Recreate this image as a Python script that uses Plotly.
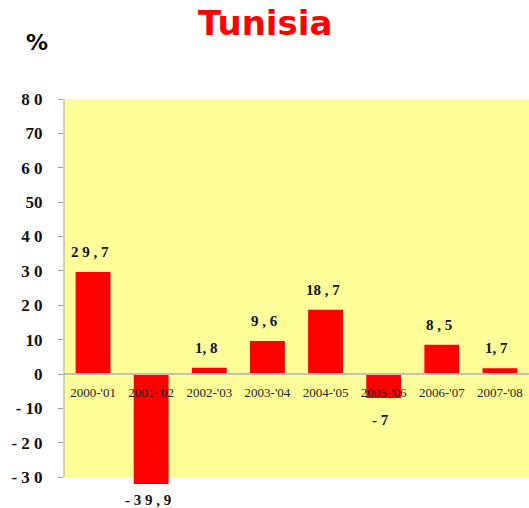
import plotly.graph_objects as go

categories = ["2000-'01", "2001-'02", "2002-'03", "2003-'04", "2004-'05", "2005-'06", "2006-'07", "2007-'08"]
values = [29.7, -39.9, 1.8, 9.6, 18.7, -7, 8.5, 1.7]
value_labels = ["2 9 , 7", "- 3 9 , 9", "1, 8", "9 , 6", "18 , 7", "- 7", "8 , 5", "1, 7"]
tick_vals = [-30, -20, -10, 0, 10, 20, 30, 40, 50, 60, 70, 80]
tick_text = ["- 3 0", "- 2 0", "- 10", "0", "10", "2 0", "3 0", "4 0", "50", "6 0", "70", "8 0"]

Y_MIN, Y_MAX = -30, 80   # visible axis
Y_CLIP = -32             # bars overhang slightly below the axis end
W, H = 529, 508
ML, MR, MT, MB = 64, 0, 99, 24
H_PLOT = H - MT - MB
W_PLOT = W - ML - MR

fig = go.Figure()
fig.add_trace(go.Bar(
    x=categories, y=values,
    marker=dict(color="#FF0000", line=dict(width=0)),
    width=0.6,
))

for c, v, t in zip(categories, values, value_labels):
    if v < Y_CLIP:
        y, ys = Y_CLIP, -16
    elif v >= 0:
        y, ys = v, 20
    else:
        y, ys = v, -22
    fig.add_annotation(
        x=c, y=y, xref="x", yref="y", text=t, showarrow=False,
        yshift=ys, xshift=-3, yanchor="middle", xanchor="center",
        font=dict(family="Liberation Serif", size=15, color="#111111", weight="bold"),
    )

# yellow plot area (ends at the axis minimum)
fig.add_shape(type="rect", xref="paper", yref="y", x0=0, x1=1, y0=Y_MIN, y1=Y_MAX,
              fillcolor="#FFFF99", line=dict(width=0), layer="below")
# y axis line
fig.add_shape(type="line", xref="paper", yref="y", x0=0, x1=0, y0=Y_MIN, y1=Y_MAX,
              line=dict(color="#A0A0A0", width=1), layer="above")

fig.add_annotation(
    x=(265 - ML) / W_PLOT, y=1 + (MT - 23) / H_PLOT, xref="paper", yref="paper",
    xanchor="center", yanchor="middle",
    text="<b>Tunisia</b>", showarrow=False,
    font=dict(family="DejaVu Sans", size=34, color="#FF0000"),
)
fig.add_annotation(
    x=(37 - ML) / W_PLOT, y=1 + (MT - 42) / H_PLOT, xref="paper", yref="paper",
    xanchor="center", yanchor="middle",
    text="<b>%</b>", showarrow=False,
    font=dict(family="DejaVu Sans", size=22, color="#000000"),
)

fig.update_layout(
    width=W, height=H,
    margin=dict(l=ML, r=MR, t=MT, b=MB, autoexpand=False),
    paper_bgcolor="white",
    plot_bgcolor="white",
    showlegend=False,
    xaxis=dict(
        type="category",
        anchor="free",
        position=(0 - Y_CLIP) / (Y_MAX - Y_CLIP),
        showline=True, linecolor="#C0C0C0", linewidth=2,
        ticks="", showgrid=False, zeroline=False,
        tickfont=dict(family="Liberation Serif", size=13, color="#222222"),
        ticklabelstandoff=6,
    ),
    yaxis=dict(
        range=[Y_CLIP, Y_MAX],
        tickvals=tick_vals, ticktext=tick_text,
        showline=False,
        ticks="outside", ticklen=5, tickcolor="#A0A0A0",
        showgrid=False, zeroline=False,
        tickfont=dict(family="Liberation Serif", size=17, color="#111111", weight="bold"),
        ticklabelstandoff=12,
    ),
)

fig.write_html(
    "out.html",
    config={"displayModeBar": False},
    post_script="document.body.style.margin='0';document.body.style.overflow='hidden';",
)
